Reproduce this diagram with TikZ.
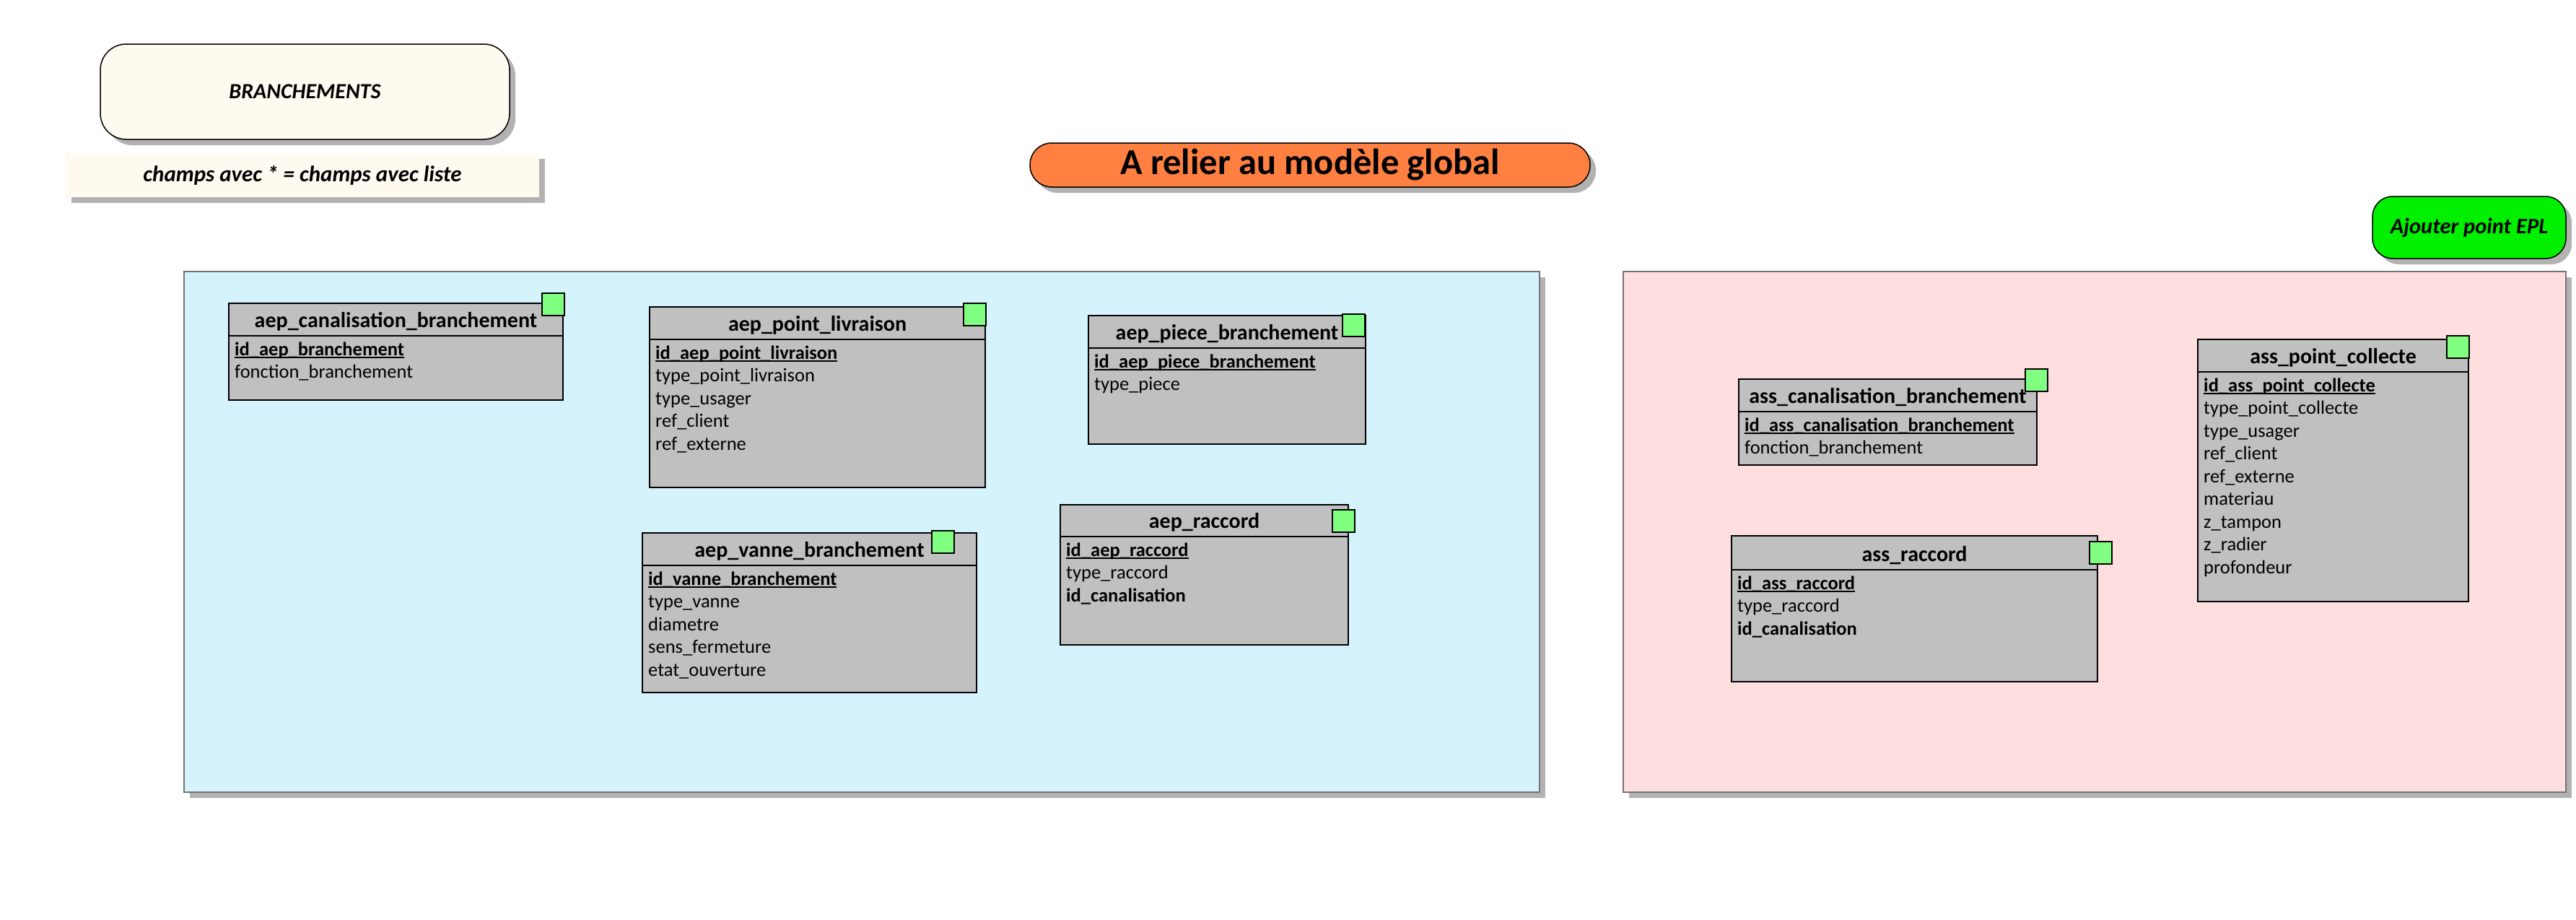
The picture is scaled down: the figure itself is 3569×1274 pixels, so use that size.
\documentclass[tikz,border=0pt]{standalone}
\usepackage{fontspec}
\setmainfont{Carlito}
\usetikzlibrary{shadows}

\definecolor{panelblue}{RGB}{212,243,253}
\definecolor{panelpink}{RGB}{255,222,224}
\definecolor{tablegray}{RGB}{192,192,192}
\definecolor{markgreen}{RGB}{128,255,128}
\definecolor{cream}{RGB}{255,250,240}
\definecolor{notice}{RGB}{255,128,64}
\definecolor{epl}{RGB}{0,240,0}
\definecolor{shade}{RGB}{178,178,178}

% primary key: bold with a rule under it
\newsavebox\keybox
\newcommand\keyf[1]{\sbox\keybox{\bfseries #1}\rlap{\rule[-4pt]{\wd\keybox}{2pt}}\usebox\keybox}
\newcommand\fkf[1]{\textbf{#1}}

% table: #1 name, #2 left, #3 top, #4 right, #5 bottom, #6 header rule y, #7 marker x, #8 marker y, #9 title
\newcommand\dbtable[9]{%
  \node[tablebox, minimum width={#4-#2}, minimum height={#5-#3}] (#1) at (#2,#3) {};
  \coordinate (#1-sepl) at (#2,#6);
  \coordinate (#1-sepr) at (#4,#6);
  \draw[line width=2.5pt] (#1-sepl) -- (#1-sepr);
  \node[tabletitle] (#1-title) at ({(#2+#4)/2},{#6-12}) {#9};
  \node[marker] (#1-mark) at (#7,#8) {};
}
% field lines: #1 table name, #2 left, #3 header rule y, #4 list
\newcommand\dbfields[4]{%
  \foreach \f [count=\i] in {#4} {
    \node[fieldtext] (#1-f\i) at ({#2+8},{#3+27+(\i-1)*31.5}) {\f};
  }
}

\begin{document}
\begin{tikzpicture}[x=1pt,y=-1pt,
  shadowed/.style={drop shadow={shadow xshift=8pt, shadow yshift=-8pt, fill=shade, opacity=1}},
  panel/.style={draw=black!55, line width=1.2pt, anchor=north west, inner sep=0, outer sep=0, shadowed},
  tablebox/.style={draw=black, line width=2.5pt, fill=tablegray, anchor=north west, inner sep=0, outer sep=0},
  marker/.style={draw=black, line width=1.3pt, fill=markgreen, minimum size=31, inner sep=0, outer sep=0, anchor=north west},
  tabletitle/.style={anchor=base, inner sep=0, font=\bfseries\fontsize{30}{36}\selectfont},
  fieldtext/.style={anchor=base west, inner sep=0, font=\fontsize{26.5}{31}\selectfont},
  label/.style={draw=black, line width=1.5pt, inner sep=0, shadowed}
]
\useasboundingbox[fill=white] (0,0) rectangle (3569,1274);

% heading labels
\node[label, fill=cream, rounded corners=36, minimum width=567, minimum height=132,
      font=\bfseries\itshape\fontsize{30}{36}\selectfont] (branch) at (422.5,127) {BRANCHEMENTS};
\node[fill=cream, inner sep=0, minimum width=656, minimum height=61, shadowed,
      font=\bfseries\itshape\fontsize{31}{37}\selectfont] (legend) at (419,242.5) {champs avec * = champs avec liste};
\node[label, fill=notice, rounded corners=30, minimum width=776, minimum height=61,
      font=\bfseries\fontsize{50.5}{60}\selectfont] (relier) at (1815,228.5) {A relier au modèle global};
\node[label, fill=epl, rounded corners=28, minimum width=268, minimum height=86,
      font=\bfseries\itshape\fontsize{30.5}{36}\selectfont] (epl) at (3421,315) {Ajouter point EPL};

% domain panels
\node[panel, fill=panelblue, minimum width=1878, minimum height=721] (aep) at (255,376) {};
\node[panel, fill=panelpink, minimum width=1306, minimum height=721] (ass) at (2249,376) {};

% drinking water tables
\dbtable{acb}{317}{420}{780}{554}{465}{751}{406}{aep\_canalisation\_branchement}
\dbfields{acb}{317}{465}{\keyf{id\_aep\_branchement}, fonction\_branchement}

\dbtable{apl}{900}{425}{1365}{675}{470}{1335}{420}{aep\_point\_livraison}
\dbfields{apl}{900}{470}{\keyf{id\_aep\_point\_livraison}, type\_point\_livraison, type\_usager, ref\_client, ref\_externe}

\dbtable{apb}{1508}{437}{1892}{615}{482}{1860}{435}{aep\_piece\_branchement}
\dbfields{apb}{1508}{482}{\keyf{id\_aep\_piece\_branchement}, type\_piece}

\dbtable{avb}{890}{738}{1353}{959}{783}{1291}{735}{aep\_vanne\_branchement}
\dbfields{avb}{890}{783}{\keyf{id\_vanne\_branchement}, type\_vanne, diametre, sens\_fermeture, etat\_ouverture}

\dbtable{arc}{1469}{699}{1868}{893}{743}{1846}{706}{aep\_raccord}
\dbfields{arc}{1469}{743}{\keyf{id\_aep\_raccord}, type\_raccord, \fkf{id\_canalisation}}

% sewer tables
\dbtable{scb}{2409}{525}{2822}{644}{570}{2806}{511}{ass\_canalisation\_branchement}
\dbfields{scb}{2409}{570}{\keyf{id\_ass\_canalisation\_branchement}, fonction\_branchement}

\dbtable{spc}{3045}{470}{3420}{833}{515}{3390}{465}{ass\_point\_collecte}
\dbfields{spc}{3045}{515}{\keyf{id\_ass\_point\_collecte}, type\_point\_collecte, type\_usager, ref\_client, ref\_externe, materiau, z\_tampon, z\_radier, profondeur}

\dbtable{src}{2399}{742}{2906}{944}{789}{2895}{750}{ass\_raccord}
\dbfields{src}{2399}{789}{\keyf{id\_ass\_raccord}, type\_raccord, \fkf{id\_canalisation}}
\end{tikzpicture}
\end{document}
